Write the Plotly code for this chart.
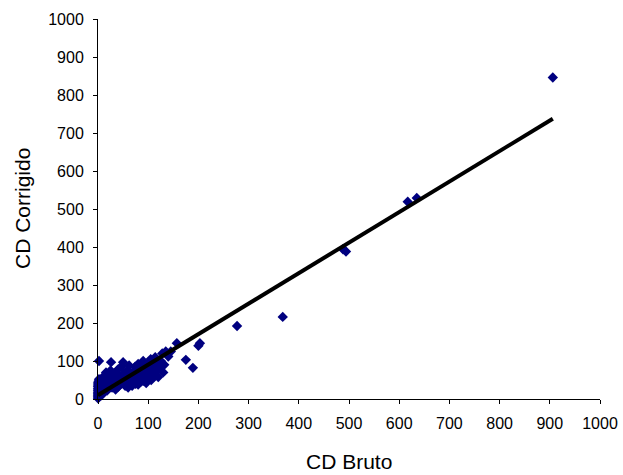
import plotly.graph_objects as go

# Scatter data (CD Bruto vs CD Corrigido)
bruto = [0, 0, 0, 0, 0, 0, 0, 0, 0, 0, 1, 1, 1, 1, 2, 2, 2, 2,
         3, 4, 5, 5, 6, 7, 8, 8, 10, 10, 12, 12, 14, 15, 16, 18, 18, 20, 20, 22, 24, 25,
         26, 26, 28, 30, 32, 33, 35, 36, 38, 40, 40, 42, 44, 45, 46, 48, 50, 50, 52, 54,
         55, 56, 58, 60, 60, 62, 63, 65, 66, 68, 70, 70, 72, 74, 75, 76, 78, 80, 80, 82,
         84, 85, 86, 88, 90, 90, 92, 94, 95, 96, 98, 100, 100, 102, 104, 105, 106, 108, 110, 112,
         114, 115, 118, 120, 122, 125, 128, 130, 132, 135, 140, 145, 157,
         175, 189, 200, 203, 277, 368, 488, 494, 617, 635, 906]
corrigido = [2, 6, 10, 14, 18, 22, 27, 32, 37, 42, 4, 12, 25, 47, 8, 30, 52, 100,
             15, 35, 20, 45, 28, 10, 38, 55, 25, 42, 18, 60, 32, 48, 70, 22, 40, 55, 28, 65, 35, 75,
             45, 97, 30, 52, 40, 68, 25, 58, 45, 78, 32, 62, 50, 38, 85, 55, 97, 42, 68, 35,
             60, 48, 75, 30, 55, 88, 40, 65, 50, 35, 72, 45, 58, 85, 40, 65, 50, 92, 38, 70,
             55, 45, 80, 62, 100, 48, 72, 58, 88, 42, 68, 80, 55, 95, 65, 105, 50, 75, 88, 60,
             110, 72, 95, 58, 82, 100, 120, 70, 90, 125, 112, 125, 147,
             103, 82, 140, 147, 192, 216, 394, 388, 519, 529, 846]

# Linear trendline coefficients (Corrigido = intercept + slope * Bruto)
trend_slope = 0.803
trend_intercept = 10
trend_x = [min(bruto), max(bruto)]
trend_y = [trend_intercept + trend_slope * v for v in trend_x]

tick_vals = list(range(0, 1001, 100))
x_title = "CD Bruto"
y_title = "CD Corrigido"

FONT = "Liberation Sans, Arial, sans-serif"

fig = go.Figure()
fig.add_trace(go.Scatter(
    x=bruto, y=corrigido, mode="markers",
    marker=dict(symbol="diamond", size=8, color="#000080", line=dict(width=0)),
    cliponaxis=False, showlegend=False, hoverinfo="x+y"))
fig.add_trace(go.Scatter(
    x=trend_x, y=trend_y, mode="lines",
    line=dict(color="black", width=4),
    cliponaxis=False, showlegend=False))

axis_common = dict(
    range=[0, 1000], tickvals=tick_vals, ticks="outside", ticklen=4, tickwidth=1,
    tickcolor="black", showline=True, linecolor="black", linewidth=1,
    showgrid=False, zeroline=False, automargin=False,
    tickfont=dict(family=FONT, size=16, color="black"),
)

fig.update_layout(
    width=623, height=475,
    margin=dict(l=98, r=23, t=19, b=76),
    paper_bgcolor="white", plot_bgcolor="white",
    xaxis=dict(**axis_common, ticklabelstandoff=6),
    yaxis=dict(**axis_common, ticklabelstandoff=6),
    annotations=[
        dict(text=x_title, xref="paper", yref="paper", x=0.5, y=0,
             xanchor="center", yanchor="middle", yshift=-62, showarrow=False,
             font=dict(family=FONT, size=21, color="black")),
        dict(text=y_title, xref="paper", yref="paper", x=0, y=0.5,
             xanchor="center", yanchor="middle", xshift=-76, textangle=-90,
             showarrow=False, font=dict(family=FONT, size=21, color="black")),
    ],
)

fig.write_html("out.html")
